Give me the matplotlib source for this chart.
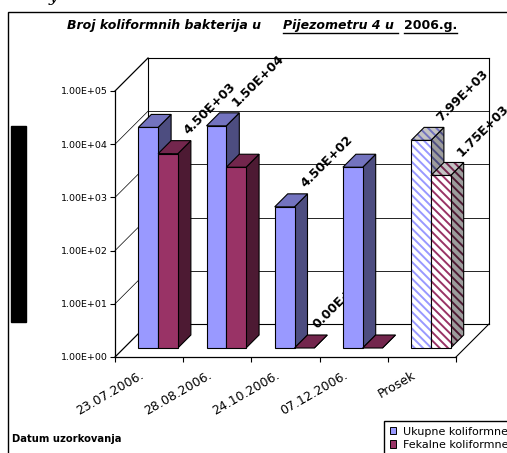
import matplotlib
matplotlib.use("Agg")
import matplotlib.pyplot as plt
import matplotlib.transforms as mtransforms
from matplotlib.patches import Polygon, Rectangle, Patch
from matplotlib.lines import Line2D
from matplotlib.ticker import NullLocator

# data
categories = ["23.07.2006.", "28.08.2006.", "24.10.2006.", "07.12.2006.", "Prosek"]
ukupne = [14000, 15000, 450, 2500, 7990]
fekalne = [4500, 2500, 0, 0, 1750]
series_names = ["Ukupne koliformne", "Fekalne koliformne"]
decades = [1e0, 1e1, 1e2, 1e3, 1e4, 1e5]
ytick_labels = ["1.00E+00", "1.00E+01", "1.00E+02", "1.00E+03", "1.00E+04", "1.00E+05"]
# (series, category) of the bars that carry a value label
shown_labels = [(1, 0), (0, 1), (0, 2), (1, 2), (0, 4), (1, 4)]
hatched = [False, False, False, False, True]

# front, top, side colour of each series
colors = [("#9999FF", "#7373BF", "#4D4D80"), ("#993366", "#73264D", "#4D1A33")]

plt.rcParams["hatch.linewidth"] = 1.4

W, H = 507, 453
fig = plt.figure(figsize=(W / 100, H / 100), dpi=100)
ax = fig.add_axes([115 / W, 1 - 357 / H, (456 - 115) / W, (357 - 91) / H])
ax.set_xlim(0, 5)
ax.set_yscale("log")
ax.set_ylim(1, 1e5)
ax.patch.set_visible(False)
for s in ("top", "right"):
    ax.spines[s].set_visible(False)
for s in ("left", "bottom"):
    ax.spines[s].set_linewidth(0.9)
ax.set_yticks(decades)
ax.set_yticklabels(ytick_labels, fontsize=6.8)
ax.yaxis.set_minor_locator(NullLocator())
ax.set_xticks(range(6))
ax.set_xticklabels([])
ax.tick_params(length=3.6, width=0.8, pad=1.5, direction="out")

ident = mtransforms.IdentityTransform()
DEPTH = 33
BAR_FRONT, BAR_BACK = 9, 22


def P(x, y, d=0):
    px, py = ax.transData.transform((x, y))
    return (px + d, py + d)


def line(p0, p1, lw=0.7, color="black", z=1):
    ax.add_line(Line2D([p0[0], p1[0]], [p0[1], p1[1]], transform=ident,
                       lw=lw, color=color, zorder=z, clip_on=False))


def face(pts, fc, z, hatch_bg=None):
    if hatch_bg is None:
        ax.add_patch(Polygon(pts, closed=True, transform=ident, fc=fc, ec="black",
                             lw=0.8, zorder=z, clip_on=False))
    else:
        ax.add_patch(Polygon(pts, closed=True, transform=ident, fc=hatch_bg, ec=fc,
                             lw=0, hatch="\\\\\\\\", zorder=z, clip_on=False))
        ax.add_patch(Polygon(pts, closed=True, transform=ident, fill=False, ec="black",
                             lw=0.8, zorder=z, clip_on=False))


# walls and floor
for v in decades:
    line(P(0, v, DEPTH), P(5, v, DEPTH), lw=0.8 if v in (1e0, 1e5) else 0.6)
    line(P(0, v), P(0, v, DEPTH), lw=0.9 if v in (1e0, 1e5) else 0.5)
line(P(0, 1, DEPTH), P(0, 1e5, DEPTH), lw=0.8)
line(P(5, 1, DEPTH), P(5, 1e5, DEPTH), lw=0.8)
line(P(5, 1), P(5, 1, DEPTH), lw=0.8)

# bars
bw = 0.29
for i in range(len(categories)):
    for s, vals in enumerate([ukupne, fekalne]):
        v = vals[i]
        top = max(v, 1)
        x0 = i + 0.21 + s * bw
        x1 = x0 + bw
        z = 10 + 2 * i + 0.5 * s
        cf, ct, cs = colors[s]
        if hatched[i]:
            bgs = ("white", "#C4C4C4", "#9C9C9C")
        else:
            bgs = (None, None, None)
        face([P(x1, 1, BAR_FRONT), P(x1, 1, BAR_BACK), P(x1, top, BAR_BACK), P(x1, top, BAR_FRONT)],
             cs, z, bgs[2])
        face([P(x0, top, BAR_FRONT), P(x1, top, BAR_FRONT), P(x1, top, BAR_BACK), P(x0, top, BAR_BACK)],
             ct, z, bgs[1])
        if v > 0:
            face([P(x0, 1, BAR_FRONT), P(x1, 1, BAR_FRONT), P(x1, top, BAR_FRONT), P(x0, top, BAR_FRONT)],
                 cf, z, bgs[0])
        if (s, i) in shown_labels:
            px, py = P((x0 + x1) / 2, top, (BAR_FRONT + BAR_BACK) / 2)
            dx = 16 if v > 0 else 9   # zero bars sit flat on the floor
            ax.text(px + dx, py + 10, "{:.2E}".format(v), transform=ident, rotation=45,
                    rotation_mode="anchor", ha="left", va="bottom", fontsize=9,
                    fontweight="bold", zorder=11 + 2 * i, clip_on=False)

# category labels
for i, c in enumerate(categories):
    px, py = P(i + 0.5, 1)
    ax.text(px - 10, py - 12, c, transform=ident, rotation=30, rotation_mode="anchor",
            ha="right", va="top", fontsize=9, clip_on=False)

# title in three pieces, two of them underlined
t1 = fig.text(67, H - 29, "Broj koliformnih bakterija u  ", transform=ident,
              fontsize=9, fontweight="bold", style="italic", va="baseline")
t2 = fig.text(283, H - 29, "Pijezometru 4 u ", transform=ident,
              fontsize=9, fontweight="bold", style="italic", va="baseline")
t3 = fig.text(404, H - 29, "2006.g.", transform=ident,
              fontsize=9, fontweight="bold", va="baseline")
renderer = fig.canvas.get_renderer()
for t in (t2, t3):
    bb = t.get_window_extent(renderer)
    fig.add_artist(Line2D([bb.x0, bb.x1], [H - 32.5, H - 32.5], transform=ident,
                          lw=1.0, color="black"))

fig.text(12, H - 442, "Datum uzorkovanja", transform=ident, fontsize=7.2,
         fontweight="bold", va="baseline")

# stray glyph from the text above the chart and the black box on the left
fig.text(49, H - 1, "y", transform=ident, fontsize=12, family="DejaVu Serif",
         style="italic", va="baseline")
fig.add_artist(Rectangle((11, H - 322), 15, 196, transform=ident, color="black"))
fig.add_artist(Rectangle((8, -20), W + 20, H - 12 + 20, transform=ident,
                         fill=False, ec="black", lw=1.0))

handles = [Patch(fc=colors[k][0], ec="black", lw=0.7) for k in range(2)]
fig.legend(handles, series_names, loc="upper left",
           bbox_to_anchor=(384 / W, 1 - 421 / H), bbox_transform=fig.transFigure,
           fontsize=8, frameon=True, fancybox=False, edgecolor="black",
           framealpha=1, borderpad=0.5, borderaxespad=0, handlelength=0.6,
           handleheight=0.6, handletextpad=0.6, labelspacing=0.3)

fig.savefig("out.png", dpi=100)
